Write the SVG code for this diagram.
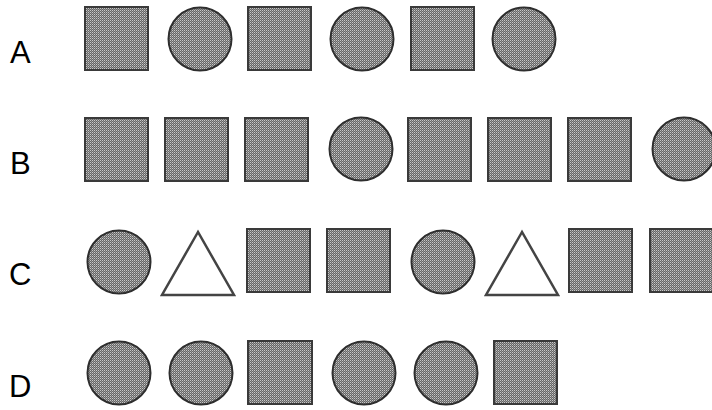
<svg xmlns="http://www.w3.org/2000/svg" width="712" height="410" viewBox="0 0 712 410">
<defs>
<pattern id="chk" width="2" height="2" patternUnits="userSpaceOnUse">
<rect width="2" height="2" fill="#666"/>
<rect x="0" y="0" width="1" height="1" fill="#c8c8c8"/>
<rect x="1" y="1" width="1" height="1" fill="#959595"/>
</pattern>
</defs>
<style>
.sq{fill:url(#chk);stroke:#3a3a3a;stroke-width:2}
.ci{fill:url(#chk);stroke:#2e2e2e;stroke-width:2}
.tr{fill:#fff;stroke:#444;stroke-width:2.5;stroke-linejoin:miter}
.lb{font-family:"Liberation Sans",Arial,sans-serif;font-size:31px;fill:#000}
</style>
<g id="labels">
<text class="lb" x="10" y="63">A</text>
<text class="lb" x="10" y="174">B</text>
<text class="lb" x="9" y="285">C</text>
<text class="lb" x="9" y="397">D</text>
</g>
<g id="rowA">
<rect id="a1" class="sq" x="85" y="7" width="63" height="63"/>
<circle id="a2" class="ci" cx="200" cy="39" r="31.5"/>
<rect id="a3" class="sq" x="248" y="7" width="63" height="63"/>
<circle id="a4" class="ci" cx="362" cy="39" r="31.5"/>
<rect id="a5" class="sq" x="411" y="7" width="63" height="63"/>
<circle id="a6" class="ci" cx="524" cy="39" r="31.5"/>
</g>
<g id="rowB">
<rect id="b1" class="sq" x="85" y="118" width="63" height="63"/>
<rect id="b2" class="sq" x="165" y="118" width="63" height="63"/>
<rect id="b3" class="sq" x="245" y="118" width="63" height="63"/>
<circle id="b4" class="ci" cx="361" cy="149" r="31.5"/>
<rect id="b5" class="sq" x="408" y="118" width="63" height="63"/>
<rect id="b6" class="sq" x="488" y="118" width="63" height="63"/>
<rect id="b7" class="sq" x="568" y="118" width="63" height="63"/>
<circle id="b8" class="ci" cx="684" cy="149" r="31.5"/>
</g>
<g id="rowC">
<circle id="c1" class="ci" cx="119" cy="262" r="31.5"/>
<polygon id="c2" class="tr" points="198,232 162,295 234,295"/>
<rect id="c3" class="sq" x="247" y="229" width="63" height="63"/>
<rect id="c4" class="sq" x="327" y="229" width="63" height="63"/>
<circle id="c5" class="ci" cx="443" cy="262" r="31.5"/>
<polygon id="c6" class="tr" points="522,232 486,295 558,295"/>
<rect id="c7" class="sq" x="569" y="229" width="63" height="63"/>
<rect id="c8" class="sq" x="650" y="229" width="63" height="63"/>
</g>
<g id="rowD">
<circle id="d1" class="ci" cx="119" cy="373" r="31.5"/>
<circle id="d2" class="ci" cx="201" cy="373" r="31.5"/>
<rect id="d3" class="sq" x="248" y="341" width="64" height="63"/>
<circle id="d4" class="ci" cx="364" cy="373" r="31.5"/>
<circle id="d5" class="ci" cx="446" cy="373" r="31.5"/>
<rect id="d6" class="sq" x="494" y="341" width="63" height="63"/>
</g>
<g id="connectors"/>
</svg>
